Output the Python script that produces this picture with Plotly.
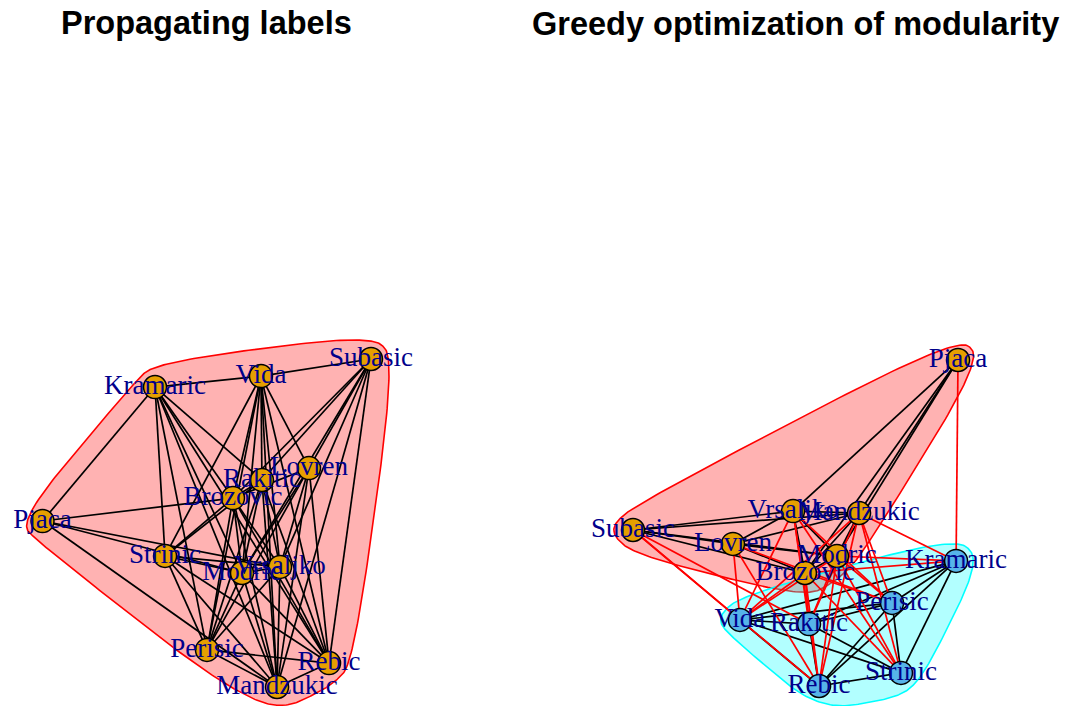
import numpy as np
import plotly.graph_objects as go

# ---------------- data ----------------
names = ["Pjaca", "Subasic", "Kramaric", "Vida", "Lovren", "Rakitic", "Brozovic",
         "Strinic", "Modric", "Vrsaljko", "Perisic", "Rebic", "Mandzukic"]

# layout of the "Propagating labels" panel (igraph coords rescaled to [-1, 1])
lp_x = [-0.997, 1.000, -0.313, 0.331, 0.623, 0.337, 0.161, -0.252, 0.216, 0.447, 0.003, 0.745, 0.429]
lp_y = [0.012, 1.000, 0.829, 0.896, 0.335, 0.262, 0.152, -0.201, -0.305, -0.268, -0.774, -0.854, -1.000]

# layout of the "Greedy optimization of modularity" panel
gr_x = [1.000, -1.000, 0.988, -0.342, -0.385, 0.083, 0.058, 0.649, 0.255, -0.015, 0.594, 0.145, 0.391]
gr_y = [0.994, -0.046, -0.235, -0.596, -0.131, -0.621, -0.309, -0.920, -0.205, 0.070, -0.492, -1.000, 0.058]

# community memberships
lp_membership = [1] * 13
gr_membership = [1, 1, 2, 2, 1, 2, 1, 2, 1, 1, 2, 2, 1]

edge_src = (["Pjaca"] * 5 + ["Subasic"] * 8 + ["Kramaric"] * 8 + ["Vida"] * 9 + ["Lovren"] * 6
            + ["Rakitic"] * 7 + ["Brozovic"] * 6 + ["Strinic"] * 5 + ["Modric"] * 4
            + ["Vrsaljko"] * 3 + ["Perisic"] * 2 + ["Rebic"])
edge_dst = (["Kramaric", "Vrsaljko", "Modric", "Brozovic", "Mandzukic"]
            + ["Vida", "Rakitic", "Rebic", "Vrsaljko", "Mandzukic", "Lovren", "Modric", "Brozovic"]
            + ["Vida", "Strinic", "Perisic", "Rakitic", "Rebic", "Brozovic", "Modric", "Mandzukic"]
            + ["Lovren", "Brozovic", "Modric", "Vrsaljko", "Mandzukic", "Rakitic", "Perisic", "Rebic", "Strinic"]
            + ["Vrsaljko", "Mandzukic", "Modric", "Brozovic", "Rebic", "Perisic"]
            + ["Brozovic", "Strinic", "Modric", "Vrsaljko", "Perisic", "Rebic", "Mandzukic"]
            + ["Strinic", "Modric", "Vrsaljko", "Perisic", "Rebic", "Mandzukic"]
            + ["Modric", "Vrsaljko", "Perisic", "Rebic", "Mandzukic"]
            + ["Vrsaljko", "Perisic", "Rebic", "Mandzukic"]
            + ["Perisic", "Rebic", "Mandzukic"]
            + ["Rebic", "Mandzukic"]
            + ["Mandzukic"])

titles = ["Propagating labels", "Greedy optimization of modularity"]

# ---------------- styles ----------------
vertex_colors = {1: "#E69F00", 2: "#56B4E9"}
mark_fill = {1: "rgba(255,0,0,0.3)", 2: "rgba(0,255,255,0.3)"}
mark_border = {1: "#FF0000", 2: "#00FFFF"}
label_font = dict(family="Liberation Serif, Times New Roman, serif", size=27, color="#00008B")
title_font = dict(family="Liberation Sans, Arial, sans-serif", size=32.5, color="black")


def f_blend(num, den):
    p = 2 * den * den
    u = num / den
    return u ** 3 * (10 - p + (2 * p - 15) * u + (6 - p) * u * u)


def xspline_closed(px, py, s=0.5, steps=40):
    n = len(px)
    xs, ys = [], []
    for k in range(n):
        i0, i1, i2, i3 = (k - 1) % n, k, (k + 1) % n, (k + 2) % n
        for t in np.linspace(0, 1, steps, endpoint=False):
            a0 = f_blend(t - s, -1 - s) if t < s else 0.0
            a2 = f_blend(t + s, 1 + s)
            a1 = f_blend(t - 1 - s, -1 - s)
            a3 = f_blend(t - 1 + s, 1 + s) if t > 1 - s else 0.0
            w = a0 + a1 + a2 + a3
            xs.append((a0 * px[i0] + a1 * px[i1] + a2 * px[i2] + a3 * px[i3]) / w)
            ys.append((a0 * py[i0] + a1 * py[i1] + a2 * py[i2] + a3 * py[i3]) / w)
    xs.append(xs[0])
    ys.append(ys[0])
    return xs, ys


def convex_hull(pts):
    pts = sorted(set(pts))
    if len(pts) <= 2:
        return pts

    def cross(o, a, b):
        return (a[0] - o[0]) * (b[1] - o[1]) - (a[1] - o[1]) * (b[0] - o[0])

    lower, upper = [], []
    for p in pts:
        while len(lower) >= 2 and cross(lower[-2], lower[-1], p) <= 0:
            lower.pop()
        lower.append(p)
    for p in reversed(pts):
        while len(upper) >= 2 and cross(upper[-2], upper[-1], p) <= 0:
            upper.pop()
        upper.append(p)
    return lower[:-1] + upper[:-1]


def group_polygon(xs, ys, d=0.15):
    pts = []
    for x, y in zip(xs, ys):
        pts += [(x, y), (x - d, y), (x + d, y), (x, y - d), (x, y + d)]
    hull = convex_hull(pts)
    return xspline_closed([p[0] for p in hull], [p[1] for p in hull])


fig = go.Figure()
idx = {n: i for i, n in enumerate(names)}

panels = [(lp_x, lp_y, lp_membership, "x", "y", False),
          (gr_x, gr_y, gr_membership, "x2", "y2", True)]

for (X, Y, memb, xa, ya, color_cross) in panels:
    # group marks
    for g in sorted(set(memb)):
        gx = [X[i] for i in range(len(names)) if memb[i] == g]
        gy = [Y[i] for i in range(len(names)) if memb[i] == g]
        hx, hy = group_polygon(gx, gy)
        fig.add_trace(go.Scatter(x=hx, y=hy, mode="lines", fill="toself",
                                 fillcolor=mark_fill[g], line=dict(color=mark_border[g], width=1.6),
                                 xaxis=xa, yaxis=ya, hoverinfo="skip", showlegend=False))
    # edges
    ex = {"black": [], "red": []}
    ey = {"black": [], "red": []}
    for a, b in zip(edge_src, edge_dst):
        i, j = idx[a], idx[b]
        c = "red" if (color_cross and memb[i] != memb[j]) else "black"
        ex[c] += [X[i], X[j], None]
        ey[c] += [Y[i], Y[j], None]
    for c in ["black", "red"]:
        if ex[c]:
            fig.add_trace(go.Scatter(x=ex[c], y=ey[c], mode="lines",
                                     line=dict(color="#000000" if c == "black" else "#FF0000", width=1.7),
                                     xaxis=xa, yaxis=ya, hoverinfo="skip", showlegend=False))
    # vertices
    fig.add_trace(go.Scatter(x=X, y=Y, mode="markers",
                             marker=dict(size=23, color=[vertex_colors[m] for m in memb],
                                         line=dict(color="black", width=1.5)),
                             xaxis=xa, yaxis=ya, hoverinfo="skip", showlegend=False))
    # labels
    fig.add_trace(go.Scatter(x=X, y=Y, mode="text", text=names, textposition="middle center",
                             textfont=label_font, xaxis=xa, yaxis=ya,
                             hoverinfo="skip", showlegend=False))

fig.add_annotation(text="<b>" + titles[0] + "</b>", x=0.0, y=3.05, xref="x", yref="y",
                   showarrow=False, font=title_font, xanchor="center", yanchor="middle")
fig.add_annotation(text="<b>" + titles[1] + "</b>", x=0.0, y=3.05, xref="x2", yref="y2",
                   showarrow=False, font=title_font, xanchor="center", yanchor="middle")

ax_common = dict(visible=False, showgrid=False, zeroline=False, fixedrange=True)
fig.update_layout(
    width=1068, height=706,
    margin=dict(l=0, r=0, t=0, b=0),
    paper_bgcolor="white", plot_bgcolor="white",
    xaxis=dict(domain=[0, 0.5], range=[-1.2067, 2.0395], **ax_common),
    yaxis=dict(domain=[0, 1], range=[-1.1646, 3.140], **ax_common),
    xaxis2=dict(domain=[0.5, 1], range=[-1.560, 1.726], anchor="y2", **ax_common),
    yaxis2=dict(domain=[0, 1], range=[-1.1713, 3.147], anchor="x2", **ax_common),
    showlegend=False,
)

fig.write_html("out.html")
